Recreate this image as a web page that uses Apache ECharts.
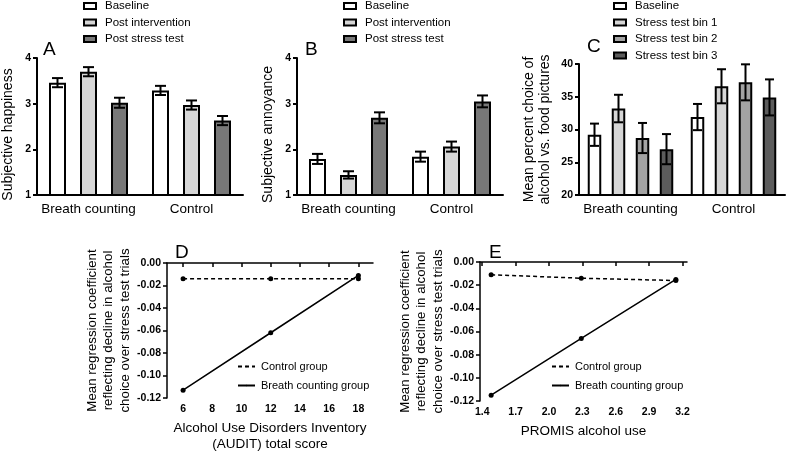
<!DOCTYPE html>
<html>
<head>
<meta charset="utf-8">
<script src="https://cdn.jsdelivr.net/npm/echarts@6/dist/echarts.min.js"></script>
<style>html,body{margin:0;padding:0;background:#fff}#c{width:787px;height:453px}</style>
</head>
<body>
<div id="c"></div>
<script>
// ---------- data ----------
const groups = ['Breath counting', 'Control'];
// Panel A: subjective happiness
const happyBaseline = [3.46, 3.29];
const happyBaselineErr = [0.10, 0.10];
const happyPostInt = [3.70, 2.97];
const happyPostIntErr = [0.10, 0.10];
const happyPostStress = [3.02, 2.63];
const happyPostStressErr = [0.11, 0.10];
// Panel B: subjective annoyance
const annoyBaseline = [1.79, 1.84];
const annoyBaselineErr = [0.11, 0.11];
const annoyPostInt = [1.44, 2.06];
const annoyPostIntErr = [0.08, 0.11];
const annoyPostStress = [2.69, 3.05];
const annoyPostStressErr = [0.12, 0.13];
// Panel C: mean percent choice of alcohol vs food pictures
const choiceBaseline = [29.2, 31.9];
const choiceBaselineErr = [1.7, 2.0];
const choiceBin1 = [33.2, 36.6];
const choiceBin1Err = [2.1, 2.6];
const choiceBin2 = [28.7, 37.2];
const choiceBin2Err = [2.3, 2.75];
const choiceBin3 = [27.0, 34.9];
const choiceBin3Err = [2.3, 2.75];
// Panel D: AUDIT
const auditX = [6, 12, 18];
const auditControl = [-0.014, -0.014, -0.014];
const auditBreath = [-0.113, -0.062, -0.011];
const auditTicks = [6, 8, 10, 12, 14, 16, 18];
// Panel E: PROMIS
const promisX = [1.48, 2.29, 3.14];
const promisControl = [-0.011, -0.014, -0.016];
const promisBreath = [-0.115, -0.066, -0.015];
const promisTicks = [1.4, 1.7, 2.0, 2.3, 2.6, 2.9, 3.2];

// ---------- styles ----------
const FONT = '"Liberation Sans", Arial, sans-serif';
const C_WHITE = '#ffffff', C_LIGHT = '#d6d6d6', C_MID = '#a3a3a3', C_DARK = '#787878', C_DARKER = '#5c5c5c';

const chart = echarts.init(document.getElementById('c'), null, {renderer: 'canvas'});

const grids = [
  {left: 37, top: 58, width: 206, height: 137},
  {left: 297, top: 58, width: 206, height: 137},
  {left: 579, top: 64, width: 206, height: 131},
  {left: 167, top: 263, width: 206, height: 138},
  {left: 480, top: 262, width: 207, height: 139}
];

function catAxis(gi) {
  return {
    type: 'category', gridIndex: gi, data: groups, boundaryGap: true,
    axisLine: {lineStyle: {color: '#000', width: 2}},
    axisTick: {alignWithLabel: true, interval: 0, length: 4, lineStyle: {color: '#000', width: 2}},
    axisLabel: {color: '#000', fontSize: 13.5, fontFamily: FONT, margin: 7, interval: 0},
    splitLine: {show: false}
  };
}
function valYAxis(gi, min, max, interval, name, nameGap, extra) {
  return Object.assign({
    type: 'value', gridIndex: gi, min: min, max: max, interval: interval,
    axisLine: {show: true, lineStyle: {color: '#000', width: 2}},
    axisTick: {show: true, length: 4, lineStyle: {color: '#000', width: 2}},
    axisLabel: {color: '#000', fontSize: 10.5, fontWeight: 'bold', fontFamily: FONT, margin: 6},
    splitLine: {show: false},
    name: name, nameLocation: 'middle', nameGap: nameGap,
    nameTextStyle: {color: '#000', fontSize: 14, fontFamily: FONT, lineHeight: 16}
  }, extra || {});
}

function barSeries(name, values, color, xi, bw, gap) {
  return {
    type: 'bar', name: name, xAxisIndex: xi, yAxisIndex: xi, data: values,
    barWidth: bw, barGap: gap,
    itemStyle: {color: color, borderColor: '#000', borderWidth: 2},
    emphasis: {disabled: true}, z: 2, clip: true
  };
}
function errSeries(values, errs, xi, offset, cap) {
  return {
    type: 'custom', xAxisIndex: xi, yAxisIndex: xi, z: 5, silent: true,
    encode: {x: 0, y: [1, 2]},
    data: values.map((v, i) => [i, v - errs[i], v + errs[i]]),
    renderItem: function (params, api) {
      const lo = api.coord([api.value(0), api.value(1)]);
      const hi = api.coord([api.value(0), api.value(2)]);
      const x = lo[0] + offset;
      const st = {stroke: '#000', lineWidth: 2};
      return {type: 'group', children: [
        {type: 'line', shape: {x1: x, y1: lo[1], x2: x, y2: hi[1]}, style: st},
        {type: 'line', shape: {x1: x - cap / 2, y1: lo[1], x2: x + cap / 2, y2: lo[1]}, style: st},
        {type: 'line', shape: {x1: x - cap / 2, y1: hi[1], x2: x + cap / 2, y2: hi[1]}, style: st}
      ]};
    }
  };
}

// bar geometry constants
const BW_AB = 17, GAP_AB = 31 / 17 - 1, STEP_AB = 31;
const BW_C = 13.5, GAP_C = 24 / 13.5 - 1, STEP_C = 24;

function barPanel(xi, specs, bw, gap, step, cap) {
  const out = [];
  const n = specs.length;
  specs.forEach((s, i) => out.push(barSeries(s[0], s[1], s[2], xi, bw, (gap * 100) + '%')));
  specs.forEach((s, i) => out.push(errSeries(s[1], s[3], xi, (i - (n - 1) / 2) * step, cap)));
  return out;
}

const series = [].concat(
  barPanel(0, [
    ['Baseline', happyBaseline, C_WHITE, happyBaselineErr],
    ['Post intervention', happyPostInt, C_LIGHT, happyPostIntErr],
    ['Post stress test', happyPostStress, C_DARK, happyPostStressErr]
  ], BW_AB, GAP_AB, STEP_AB, 11),
  barPanel(1, [
    ['Baseline', annoyBaseline, C_WHITE, annoyBaselineErr],
    ['Post intervention', annoyPostInt, C_LIGHT, annoyPostIntErr],
    ['Post stress test', annoyPostStress, C_DARK, annoyPostStressErr]
  ], BW_AB, GAP_AB, STEP_AB, 11),
  barPanel(2, [
    ['Baseline', choiceBaseline, C_WHITE, choiceBaselineErr],
    ['Stress test bin 1', choiceBin1, C_LIGHT, choiceBin1Err],
    ['Stress test bin 2', choiceBin2, C_MID, choiceBin2Err],
    ['Stress test bin 3', choiceBin3, C_DARKER, choiceBin3Err]
  ], BW_C, GAP_C, STEP_C, 9),
  [
    {type: 'line', name: 'Control group', xAxisIndex: 3, yAxisIndex: 3,
     data: auditX.map((x, i) => [x, auditControl[i]]), symbol: 'circle', symbolSize: 5,
     lineStyle: {color: '#000', width: 1.5, type: [4, 3]}, itemStyle: {color: '#000'}, z: 3},
    {type: 'line', name: 'Breath counting group', xAxisIndex: 3, yAxisIndex: 3,
     data: auditX.map((x, i) => [x, auditBreath[i]]), symbol: 'circle', symbolSize: 5,
     lineStyle: {color: '#000', width: 1.5}, itemStyle: {color: '#000'}, z: 3},
    {type: 'line', name: 'Control group', xAxisIndex: 4, yAxisIndex: 4,
     data: promisX.map((x, i) => [x, promisControl[i]]), symbol: 'circle', symbolSize: 5,
     lineStyle: {color: '#000', width: 1.5, type: [4, 3]}, itemStyle: {color: '#000'}, z: 3},
    {type: 'line', name: 'Breath counting group', xAxisIndex: 4, yAxisIndex: 4,
     data: promisX.map((x, i) => [x, promisBreath[i]]), symbol: 'circle', symbolSize: 5,
     lineStyle: {color: '#000', width: 1.5}, itemStyle: {color: '#000'}, z: 3}
  ]
);

function lineXAxis(gi, min, max, ticks, digits, name) {
  return {
    type: 'value', gridIndex: gi, min: min, max: max,
    axisLine: {show: true, lineStyle: {color: '#000', width: 1.5}},
    axisTick: {show: true, length: 4, lineStyle: {color: '#000', width: 1.5}, customValues: ticks},
    axisLabel: {color: '#000', fontSize: 10.5, fontWeight: 'bold', fontFamily: FONT, margin: 6,
                customValues: ticks, formatter: v => v.toFixed(digits)},
    splitLine: {show: false},
    name: name, nameLocation: 'middle', nameGap: 22,
    nameTextStyle: {color: '#000', fontSize: 13.5, fontFamily: FONT, lineHeight: 16, verticalAlign: 'top'}
  };
}
const dTitle = 'Mean regression coefficient\nreflecting decline in alcohol\nchoice over stress test trials';
function lineYAxis(gi) {
  return {
    type: 'value', gridIndex: gi, min: -0.12, max: 0, interval: 0.02,
    axisLine: {show: true, lineStyle: {color: '#000', width: 1.5}},
    axisTick: {show: true, length: 4, lineStyle: {color: '#000', width: 1.5}},
    axisLabel: {color: '#000', fontSize: 10.5, fontWeight: 'bold', fontFamily: FONT, margin: 6,
                formatter: v => v.toFixed(2)},
    splitLine: {show: false},
    name: dTitle, nameLocation: 'middle', nameGap: 32,
    nameTextStyle: {color: '#000', fontSize: 13.3, fontFamily: FONT, lineHeight: 16.5}
  };
}

function barLegend(left, names) {
  return {
    orient: 'vertical', left: left, top: 0, padding: 0, itemGap: 4.5,
    itemWidth: 12, itemHeight: 6, icon: 'rect', selectedMode: false,
    itemStyle: {borderColor: '#000', borderWidth: 2},
    textStyle: {color: '#000', fontSize: 11.5, fontFamily: FONT, lineHeight: 11.5, padding: [0, 0, 0, 4]},
    data: names
  };
}
function lineLegend(left) {
  return {
    orient: 'vertical', left: left, top: 360, padding: 0, itemGap: 6,
    itemWidth: 17, itemHeight: 2, selectedMode: false,
    textStyle: {color: '#000', fontSize: 11, fontFamily: FONT, lineHeight: 13, padding: [0, 0, 0, 1]},
    data: ['Control group', 'Breath counting group']
  };
}

function panelLabel(text, left, top) {
  return {type: 'text', left: left, top: top, style: {text: text, fontSize: 19, fontFamily: FONT, fill: '#000'}};
}

const option = {
  backgroundColor: '#fff',
  animation: false,
  textStyle: {fontFamily: FONT},
  grid: grids,
  xAxis: [
    catAxis(0), catAxis(1), catAxis(2),
    lineXAxis(3, 4.9, 19, auditTicks, 0, 'Alcohol Use Disorders Inventory\n(AUDIT) total score'),
    lineXAxis(4, 1.38, 3.24, promisTicks, 1, 'PROMIS alcohol use')
  ],
  yAxis: [
    valYAxis(0, 1, 4, 1, 'Subjective happiness', 22, {nameTextStyle: {color: '#000', fontSize: 14, fontFamily: FONT, padding: [0, 16, 0, 0]}}),
    valYAxis(1, 1, 4, 1, 'Subjective annoyance', 22, {nameTextStyle: {color: '#000', fontSize: 14, fontFamily: FONT, padding: [0, 16, 0, 0]}}),
    valYAxis(2, 20, 40, 5, 'Mean percent choice of\nalcohol vs. food pictures', 26),
    lineYAxis(3), lineYAxis(4)
  ],
  legend: [
    barLegend(83, ['Baseline', 'Post intervention', 'Post stress test']),
    barLegend(343, ['Baseline', 'Post intervention', 'Post stress test']),
    barLegend(613, ['Baseline', 'Stress test bin 1', 'Stress test bin 2', 'Stress test bin 3']),
    lineLegend(237), lineLegend(551)
  ],
  graphic: [
    panelLabel('A', 43, 40), panelLabel('B', 305, 40), panelLabel('C', 587, 37),
    panelLabel('D', 175, 243), panelLabel('E', 489, 243)
  ],
  series: series
};
chart.setOption(option);
</script>
</body>
</html>
